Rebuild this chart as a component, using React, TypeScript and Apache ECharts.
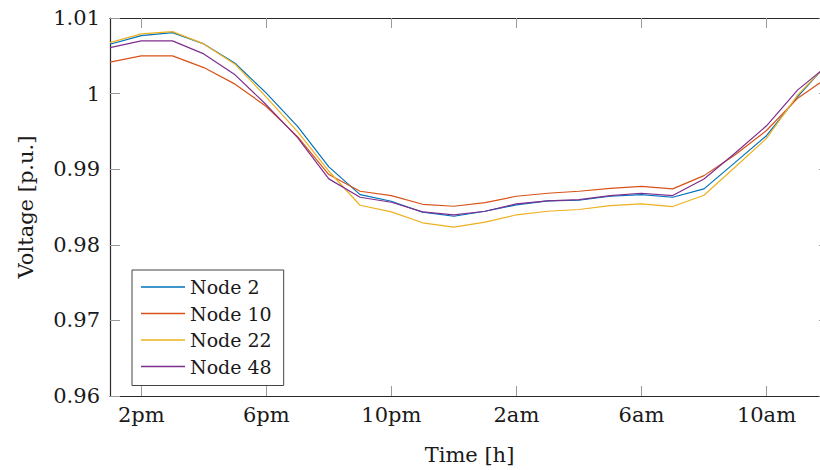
import React, { useEffect, useRef } from "react";
import * as echarts from "echarts";

const hours = [13, 14, 15, 16, 17, 18, 19, 20, 21, 22, 23, 24, 25, 26, 27, 28, 29, 30, 31, 32, 33, 34, 35, 36];

const node2 = [1.00653, 1.00767, 1.00806, 1.00657, 1.00402, 1.00007, 0.99566, 0.99031, 0.98664, 0.98576, 0.98431, 0.98378,
  0.98444, 0.98528, 0.98581, 0.98589, 0.98642, 0.98664, 0.98629, 0.9874, 0.9909, 0.99443, 0.99961, 1.00419];
const node10 = [1.00416, 1.00499, 1.00499, 1.00344, 1.00125, 0.9983, 0.9943, 0.98929, 0.98708, 0.98651, 0.98536, 0.9851,
  0.98559, 0.98642, 0.98682, 0.98708, 0.98747, 0.98774, 0.9874, 0.98915, 0.99192, 0.99512, 0.9994, 1.00226];
const node22 = [1.00674, 1.00789, 1.00819, 1.00657, 1.00389, 0.99954, 0.99496, 0.98973, 0.98523, 0.98436, 0.98291, 0.98233,
  0.98299, 0.98397, 0.98444, 0.98467, 0.98519, 0.98542, 0.98506, 0.98655, 0.9903, 0.99407, 0.99983, 1.00411];
const node48 = [1.00608, 1.00697, 1.00697, 1.00525, 1.00248, 0.99852, 0.99417, 0.98872, 0.98629, 0.98563, 0.98436, 0.98397,
  0.98444, 0.98542, 0.98581, 0.98598, 0.98651, 0.98682, 0.98651, 0.98871, 0.99214, 0.99574, 1.00049, 1.00386];

const seriesNames = ["Node 2", "Node 10", "Node 22", "Node 48"];
const seriesColors = ["#0072BD", "#D95319", "#EDB120", "#7E2F8E"];
const seriesData = [node2, node10, node22, node48];

const xTickValues = [14, 18, 22, 26, 30, 34];
const xTickLabels = ["2pm", "6pm", "10pm", "2am", "6am", "10am"];

const FONT = "DejaVu Serif";
const TEXT = "#1a1a1a";
const FRAME = "#2a2a2a";
const TICK = "#9a9a9a";

export default function App() {
  const ref = useRef<HTMLDivElement>(null);
  useEffect(() => {
    if (!ref.current) return;
    const chart = echarts.init(ref.current, undefined, { renderer: "svg" });
    const xCommon = {
      type: "value" as const,
      min: 13,
      max: 36,
      splitLine: { show: false },
      axisLine: { show: true, onZero: false, lineStyle: { color: FRAME, width: 1.2 } },
      axisTick: { show: true, inside: true, length: 10, customValues: xTickValues, lineStyle: { color: TICK, width: 1 } },
    };
    const yCommon = {
      type: "value" as const,
      min: 0.96,
      max: 1.01,
      interval: 0.01,
      splitLine: { show: false },
      axisLine: { show: true, onZero: false, lineStyle: { color: FRAME, width: 1.2 } },
      axisTick: { show: true, inside: true, length: 10, lineStyle: { color: TICK, width: 1 } },
    };
    chart.setOption({
      animation: false,
      backgroundColor: "#ffffff",
      grid: { left: 110, right: 1, top: 18, bottom: 73, containLabel: false },
      legend: {
        show: true,
        orient: "vertical",
        left: 132,
        top: 270,
        data: seriesNames,
        icon: "rect",
        itemWidth: 44,
        itemHeight: 1.4,
        itemGap: 6.5,
        padding: [7, 12, 9, 9],
        borderColor: "#444",
        borderWidth: 1,
        borderRadius: 0,
        backgroundColor: "#ffffff",
        textStyle: { fontFamily: FONT, fontSize: 19, color: TEXT, lineHeight: 20, padding: [0, 0, 0, 0] },
      },
      xAxis: [
        {
          ...xCommon,
          position: "bottom",
          name: "Time [h]",
          nameLocation: "middle",
          nameGap: 48,
          nameTextStyle: { fontFamily: FONT, fontSize: 21, color: TEXT },
          axisLabel: {
            show: true,
            customValues: xTickValues,
            margin: 8,
            fontFamily: FONT,
            fontSize: 21,
            color: TEXT,
            formatter: (v: number) => {
              const i = xTickValues.indexOf(Math.round(v));
              return i >= 0 ? xTickLabels[i] : "";
            },
          },
        },
        {
          ...xCommon,
          position: "top",
          axisLabel: { show: false },
        },
      ],
      yAxis: [
        {
          ...yCommon,
          position: "left",
          name: "Voltage [p.u.]",
          nameLocation: "middle",
          nameGap: 74,
          nameRotate: 90,
          nameTextStyle: { fontFamily: FONT, fontSize: 21, color: TEXT },
          axisLabel: {
            show: true,
            margin: 10,
            fontFamily: FONT,
            fontSize: 21,
            color: TEXT,
            formatter: (v: number) => String(Number(v.toFixed(2))),
          },
        },
        {
          ...yCommon,
          position: "right",
          axisLabel: { show: false },
        },
      ],
      series: seriesNames.map((name, i) => ({
        name,
        type: "line",
        xAxisIndex: 0,
        yAxisIndex: 0,
        data: hours.map((h, j) => [h, seriesData[i][j]]),
        symbol: "none",
        showSymbol: false,
        clip: true,
        color: seriesColors[i],
        lineStyle: { color: seriesColors[i], width: 1.2 },
        z: 2 + i,
      })),
    });
    return () => chart.dispose();
  }, []);
  return (
    <div style={{ position: "fixed", left: 0, top: 0, width: 820, height: 470, overflow: "hidden", background: "#fff" }}>
      <div ref={ref} style={{ width: 830, height: 470 }} />
    </div>
  );
}
